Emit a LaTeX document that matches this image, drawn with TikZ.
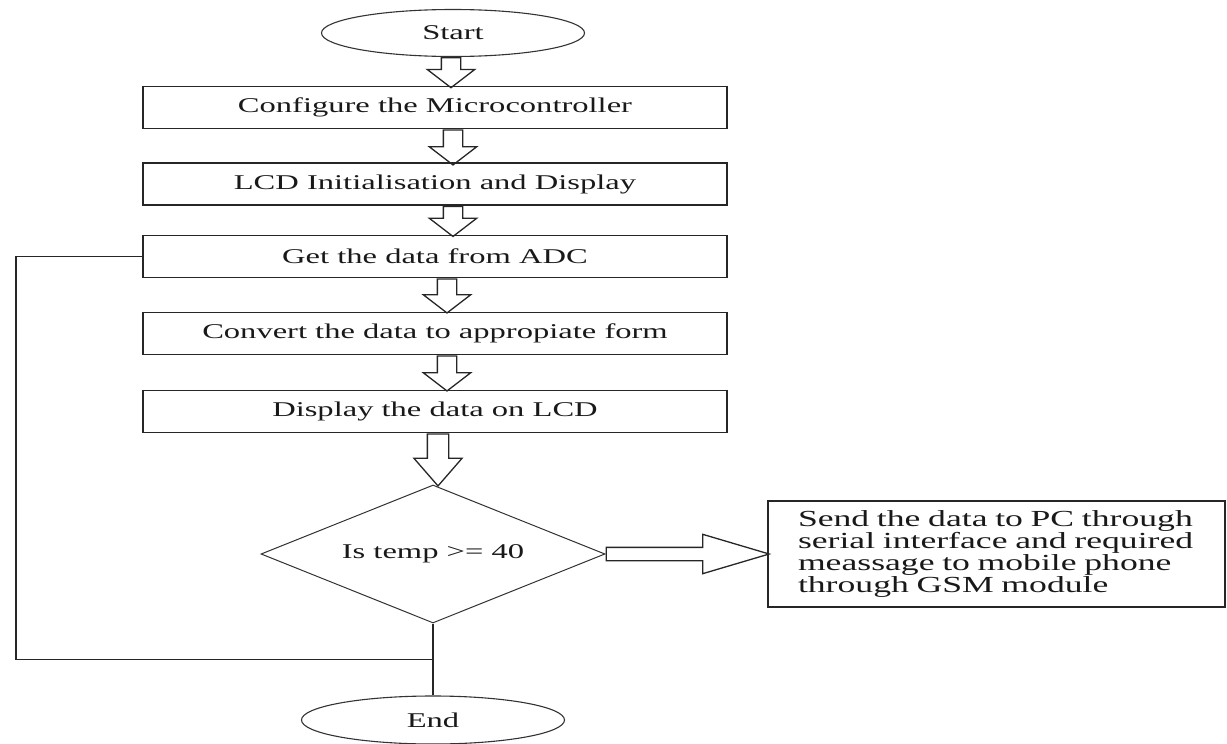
\documentclass[tikz,border=0pt]{standalone}
\usepackage{fontspec}
\setmainfont{Liberation Serif}[FakeStretch=1.55]
\usetikzlibrary{arrows,positioning,shapes,calc}

\begin{document}
\begin{tikzpicture}[x=1pt,y=1pt,node distance=75pt,thick,
	font=\fontsize{21}{22}\selectfont,text=black!90,
	box node/.style={rectangle,draw=black!85,line width=1.6pt,minimum width=584pt,minimum height=42pt,inner sep=0pt},
	term node/.style={ellipse,draw=black!80,line width=1.1pt,minimum width=263pt,minimum height=47pt,inner sep=0pt},
	test node/.style={diamond,aspect=2.5,draw=black!80,line width=1pt,minimum width=344pt,minimum height=138pt,inner sep=0pt},
	arrow node/.style={single arrow,draw=black!85,line width=1.3pt,shape border rotate=270,inner sep=9pt,
		single arrow head extend=14pt,single arrow tip angle=105,anchor=tail}]
	\useasboundingbox (0,0) rectangle (1227,-744);
	\node[term node] (1) at (453,-33) {Start};
	\node[box node,xshift=-18pt] (2) [below of=1,node distance=74.5pt] {Configure the Microcontroller};
	\node[box node] (3) [below of=2,node distance=76.5pt] {LCD Initialisation and Display};
	\node[box node] (4) [below of=3,node distance=72.5pt] {Get the data from ADC};
	\node[box node] (5) [below of=4,node distance=77pt] {Convert the data to appropiate form};
	\node[box node] (6) [below of=5,node distance=78pt] {Display the data on LCD};
	\node[test node,xshift=-2pt] (7) [below of=6,node distance=142.5pt] {Is temp >= 40};
	\node[term node,minimum height=48pt] (8) [below of=7,node distance=166pt] {End};
	\node[rectangle,draw=black!85,line width=1.3pt,text width=397pt,inner xsep=30pt,inner ysep=8pt,
		minimum height=106pt,align=left,font=\fontsize{23}{22}\selectfont] (9) [right of=7,node distance=563.5pt]
		{Send the data to PC through\\ serial interface and required\\ meassage to mobile phone\\ through GSM module};
	
	\node[arrow node,minimum height=30pt] at ($(1.south)+(-2,0)$) {};
	\node[arrow node,minimum height=35pt] at ($(2.south)+(18,0)$) {};
	\node[arrow node,minimum height=30pt] at ($(3.south)+(18,0)$) {};
	\node[arrow node,minimum height=34pt] at ($(4.south)+(12,0)$) {};
	\node[arrow node,minimum height=35pt] at ($(5.south)+(12,0)$) {};
	\node[arrow node,minimum height=52pt,inner sep=10pt,single arrow head extend=13.5pt,
		single arrow tip angle=82] at ($(6.south)+(3,0)$) {};
	\node[arrow node,shape border rotate=0,minimum height=163pt,inner sep=6pt,
		single arrow head extend=13pt,single arrow tip angle=33] at (7.east) {};
	
	\coordinate (m) at ($(7.south)!.5!(8.north)$);
	\draw[black!85,line width=1.2pt] (7.south) -- (8.north);
	\draw[black!85,line width=1.5pt] (4.west) -- ++(-126,0) |- (m);
\end{tikzpicture}
\end{document}
